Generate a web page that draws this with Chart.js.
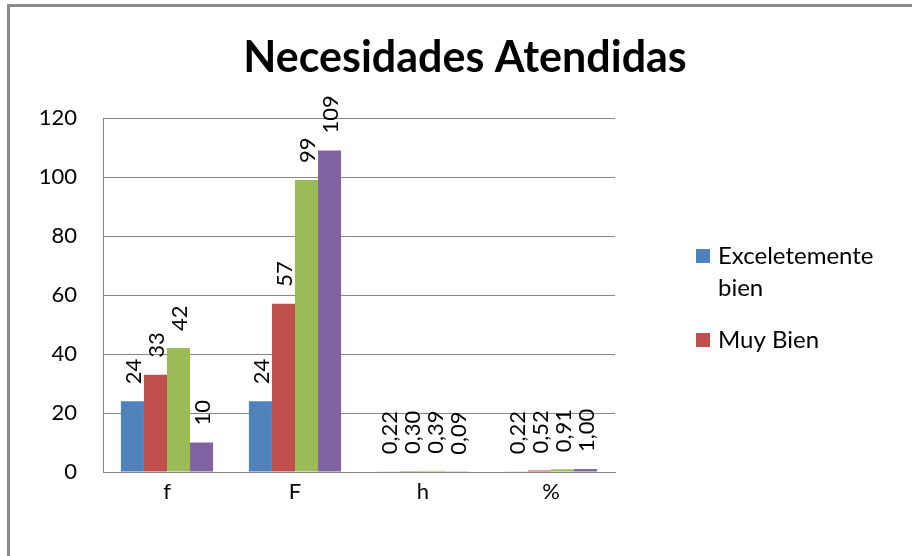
<!DOCTYPE html>
<html>
<head>
<meta charset="utf-8">
<script src="https://cdn.jsdelivr.net/npm/chart.js@4/dist/chart.umd.min.js"></script>
<style>
  html, body { margin: 0; padding: 0; background: #fff; }
  #wrap { position: relative; width: 912px; height: 556px; }
</style>
</head>
<body>
<div id="wrap"><canvas id="c" width="912" height="556"></canvas></div>
<script>
const titleText = "Necesidades Atendidas";
const categories = ["f", "F", "h", "%"];
const seriesNames = ["Exceletemente bien", "Muy Bien", "Bien", "Regular"];
const excelentementeBien = [24, 24, 0.22, 0.22];
const muyBien = [33, 57, 0.30, 0.52];
const bien = [42, 99, 0.39, 0.91];
const regular = [10, 109, 0.09, 1.00];
const labelDecimals = [0, 0, 2, 2];
const yTicks = [0, 20, 40, 60, 80, 100, 120];
const legendShown = [["Exceletemente", "bien"], ["Muy Bien"]];
const colors = ["#4F81BD", "#C0504D", "#9BBB59", "#8064A2"];

const FONT = "Lato, 'Open Sans', 'Liberation Sans', sans-serif";

const seriesValues = [excelentementeBien, muyBien, bien, regular];

const decorPlugin = {
  id: 'decor',
  beforeDraw(chart) {
    const ctx = chart.ctx;
    ctx.save();
    ctx.fillStyle = '#fff';
    ctx.fillRect(0, 0, chart.width, chart.height);
    ctx.fillStyle = '#8a8a8a';
    ctx.fillRect(7, 4, 3, chart.height);
    ctx.fillRect(7, 4, chart.width, 3);
    ctx.restore();
  },
  afterDraw(chart) {
    const ctx = chart.ctx;
    ctx.save();
    // title
    ctx.fillStyle = '#000';
    ctx.font = "bold 43px " + FONT;
    ctx.textAlign = 'center';
    ctx.textBaseline = 'middle';
    ctx.fillText(titleText, 465, 58);
    // legend
    ctx.font = "24px " + FONT;
    ctx.textAlign = 'left';
    ctx.textBaseline = 'alphabetic';
    let y = 264;
    legendShown.forEach((lines, i) => {
      ctx.fillStyle = colors[i];
      ctx.fillRect(696, y - 15, 14, 14);
      ctx.fillStyle = '#000';
      lines.forEach((ln, j) => {
        ctx.fillText(ln, 718, y + j * 32);
      });
      y += lines.length * 32 + 20;
    });
    ctx.restore();
  },
  afterDatasetsDraw(chart) {
    const ctx = chart.ctx;
    ctx.save();
    ctx.fillStyle = '#000';
    ctx.font = "22px " + FONT;
    ctx.textAlign = 'left';
    ctx.textBaseline = 'middle';
    chart.data.datasets.forEach((ds, di) => {
      const meta = chart.getDatasetMeta(di);
      meta.data.forEach((bar, i) => {
        const v = ds.data[i];
        const txt = v.toFixed(labelDecimals[i]).replace('.', ',');
        ctx.save();
        ctx.translate(bar.x + 1, bar.y - 17);
        ctx.rotate(-Math.PI / 2);
        ctx.fillText(txt, 0, 0);
        ctx.restore();
      });
    });
    ctx.restore();
  }
};

new Chart(document.getElementById('c'), {
  type: 'bar',
  data: {
    labels: categories,
    datasets: seriesValues.map((vals, i) => ({
      label: seriesNames[i],
      data: vals,
      backgroundColor: colors[i],
      borderWidth: 0,
      barPercentage: 1.0,
      categoryPercentage: 0.72
    }))
  },
  options: {
    responsive: false,
    animation: false,
    layout: { padding: { left: 0, right: 297, top: 118, bottom: 44 } },
    plugins: {
      legend: { display: false },
      title: { display: false },
      tooltip: { enabled: false }
    },
    scales: {
      x: {
        grid: { display: false, drawTicks: false },
        border: { color: '#868686', width: 1 },
        ticks: { color: '#000', font: { family: FONT, size: 22 }, padding: 7 },
        afterFit(s) { s.height = 40; }
      },
      y: {
        min: 0, max: 120,
        afterBuildTicks(s) { s.ticks = yTicks.map(v => ({ value: v })); },
        grid: { color: '#868686', drawTicks: false },
        border: { color: '#868686', width: 1 },
        ticks: { color: '#000', font: { family: FONT, size: 22 }, padding: 26 },
        afterFit(s) { s.width = 103; }
      }
    }
  },
  plugins: [decorPlugin]
});
</script>
</body>
</html>
